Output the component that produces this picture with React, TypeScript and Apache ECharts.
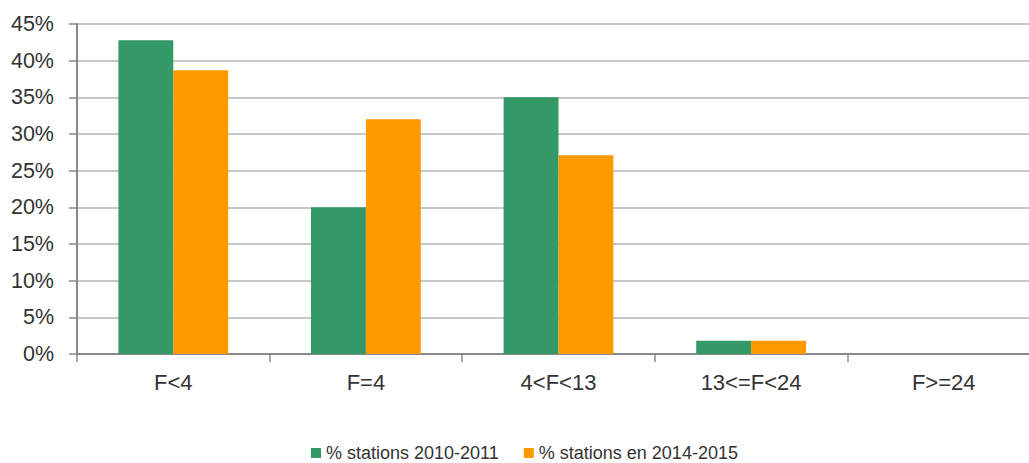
import React, { useEffect, useRef } from "react";
import * as echarts from "echarts";

const categories = ["F<4", "F=4", "4<F<13", "13<=F<24", "F>=24"];
const series2010 = [42.8, 20.0, 35.0, 1.8, 0];
const series2014 = [38.7, 32.0, 27.1, 1.8, 0];
const seriesNames = ["% stations 2010-2011", "% stations en 2014-2015"];

export default function App() {
  const ref = useRef<HTMLDivElement>(null);
  useEffect(() => {
    document.body.style.overflow = "hidden";
    const chart = echarts.init(ref.current!, null, { renderer: "svg" });
    const font = "'Liberation Sans', Arial, sans-serif";
    chart.setOption({
      animation: false,
      textStyle: { fontFamily: font },
      legend: {
        top: 439,
        left: 306,
        itemWidth: 10,
        itemHeight: 10,
        itemGap: 25,
        icon: "rect",
        textStyle: { fontSize: 18, color: "#333", fontFamily: font },
        data: seriesNames,
      },
      grid: { left: 77, top: 24, width: 963, height: 330, containLabel: false },
      xAxis: {
        type: "category",
        data: categories,
        axisLine: { lineStyle: { color: "#888", width: 2 } },
        axisTick: { show: true, length: 8, lineStyle: { color: "#888", width: 1.5 } },
        axisLabel: { fontSize: 22, color: "#333", margin: 17, fontFamily: font },
      },
      yAxis: {
        type: "value",
        min: 0,
        max: 45,
        interval: 5,
        axisLine: { show: true, lineStyle: { color: "#888", width: 2 } },
        axisTick: { show: true, length: 8, lineStyle: { color: "#888", width: 1.5 } },
        axisLabel: { fontSize: 21.5, color: "#333", margin: 23, formatter: "{value}%", fontFamily: font },
        splitLine: { lineStyle: { color: "#b4b4b4", width: 1.5 } },
      },
      series: [
        {
          name: seriesNames[0],
          type: "bar",
          data: series2010,
          itemStyle: { color: "#339966" },
          barGap: "0%",
          barCategoryGap: "43%",
        },
        {
          name: seriesNames[1],
          type: "bar",
          data: series2014,
          itemStyle: { color: "#ff9900" },
          barGap: "0%",
          barCategoryGap: "43%",
        },
      ],
    });
    return () => chart.dispose();
  }, []);
  return (
    <div
      ref={ref}
      style={{ position: "fixed", left: 0, top: 0, width: 1080, height: 463, background: "#fff" }}
    />
  );
}
